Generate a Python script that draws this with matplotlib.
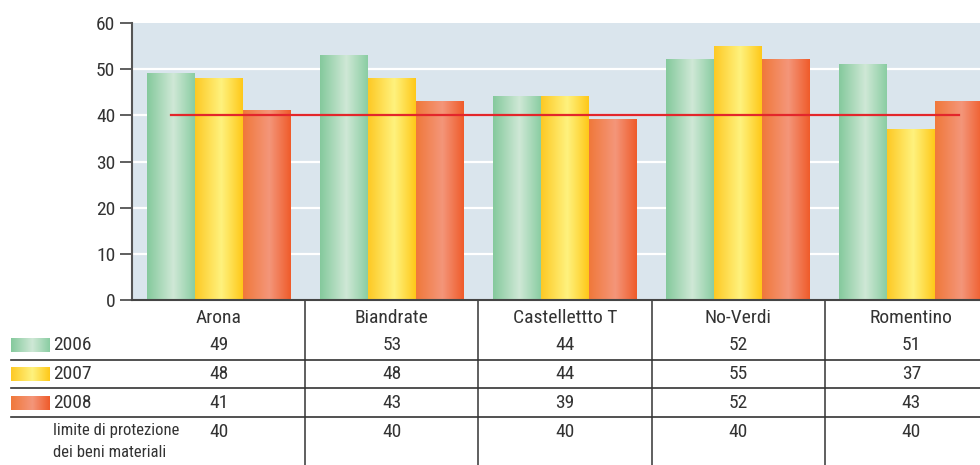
import numpy as np
import matplotlib.pyplot as plt
from matplotlib import font_manager
from matplotlib.colors import LinearSegmentedColormap
from matplotlib.transforms import blended_transform_factory

# pick a narrow sans face if one is installed
narrow = None
for name in ["Liberation Sans Narrow", "DejaVu Sans Condensed", "Roboto Condensed",
             "Open Sans Condensed", "Roboto"]:
    try:
        font_manager.findfont(font_manager.FontProperties(family=name),
                              fallback_to_default=False)
        narrow = name
        break
    except ValueError:
        pass
plt.rcParams['font.family'] = [narrow or 'DejaVu Sans', 'DejaVu Sans']
fs = 14 if narrow in ("Liberation Sans Narrow", "DejaVu Sans Condensed", "Roboto Condensed") else 12.5

comuni = ["Arona", "Biandrate", "Castellettto T", "No-Verdi", "Romentino"]
anni = ["2006", "2007", "2008"]
v2006 = [49, 53, 44, 52, 51]
v2007 = [48, 48, 44, 55, 37]
v2008 = [41, 43, 39, 52, 43]
limite = [40, 40, 40, 40, 40]
limite_label = "limite di protezione\ndei beni materiali"

# left edge / mid-light / right edge of each bar gradient
grad_colors = [
    ["#84c99c", "#cfe8d6", "#8acda2"],
    ["#fdc924", "#fff27e", "#fec818"],
    ["#f0783a", "#f4967a", "#ef5b2a"],
]

W, H = 980, 465
fig = plt.figure(figsize=(W / 100, H / 100), dpi=100)
ax = fig.add_axes([132 / W, (H - 300) / H, (W - 132) / W, (300 - 23) / H])
ax.set_facecolor("#dae5ed")

x = np.arange(len(comuni))
bw = 0.277
series = [v2006, v2007, v2008]
cmaps = [LinearSegmentedColormap.from_list(a, [(0, c[0]), (0.55, c[1]), (1, c[2])])
         for a, c in zip(anni, grad_colors)]
grad = np.linspace(0, 1, 256).reshape(1, -1)

for k, vals in enumerate(series):
    bars = ax.bar(x + (k - 1) * bw, vals, bw, color="none", zorder=2)
    for b in bars:
        x0, y0 = b.get_x(), b.get_y()
        ax.imshow(grad, cmap=cmaps[k], aspect="auto", zorder=2,
                  extent=[x0, x0 + b.get_width(), y0, y0 + b.get_height()])

# protection limit line
ax.plot([x[0] - bw, x[-1] + bw], [limite[0], limite[-1]], color="#e3262b", lw=1.6, zorder=3)

ax.set_xlim(-0.5, 4.5 - 18 / 173)
ax.set_ylim(0, 60)
ax.set_yticks(range(0, 61, 10))
ax.set_xticks([])
for yv in range(10, 60, 10):
    ax.axhline(yv, color="white", lw=1.6, zorder=1)
ax.tick_params(axis="y", length=9, width=1.2, color="#444444", labelsize=fs,
               labelcolor="#333333", pad=3)
for s in ["top", "right"]:
    ax.spines[s].set_visible(False)
ax.spines["left"].set_color("#555555")
ax.spines["left"].set_linewidth(1.5)
ax.spines["bottom"].set_color("#444444")
ax.spines["bottom"].set_linewidth(1.5)
ax.spines["bottom"].set_zorder(4)


# table under the chart
def fy(py):
    return 1 - py / H


bt = blended_transform_factory(ax.transData, fig.transFigure)

rows = [comuni, v2006, v2007, v2008, limite]
row_y = [318, 345, 374, 403, 432]
for vals, py in zip(rows, row_y):
    for xi, v in zip(x, vals):
        fig.text(xi, fy(py), str(v), transform=bt, ha="center", va="center",
                 fontsize=fs, color="#333333")

for xb in x[:-1] + 0.5:
    fig.add_artist(plt.Line2D([xb, xb], [fy(300), 0], transform=bt,
                              color="#444444", lw=1.2))
for py in [360, 388, 417]:
    fig.add_artist(plt.Line2D([11 / W, 1], [fy(py), fy(py)], transform=fig.transFigure,
                              color="#333333", lw=1.2))

for k, (anno, py) in enumerate(zip(anni, row_y[1:4])):
    sw = fig.add_axes([11 / W, fy(py + 7), 38 / W, 14 / H])
    sw.imshow(grad, cmap=cmaps[k], aspect="auto")
    sw.axis("off")
    fig.text(53 / W, fy(py), anno, ha="left", va="center", fontsize=fs, color="#333333")

fig.text(53 / W, fy(423), limite_label, ha="left", va="top", fontsize=fs - 2,
         color="#333333", linespacing=1.55)

fig.savefig("out.png", dpi=100)
